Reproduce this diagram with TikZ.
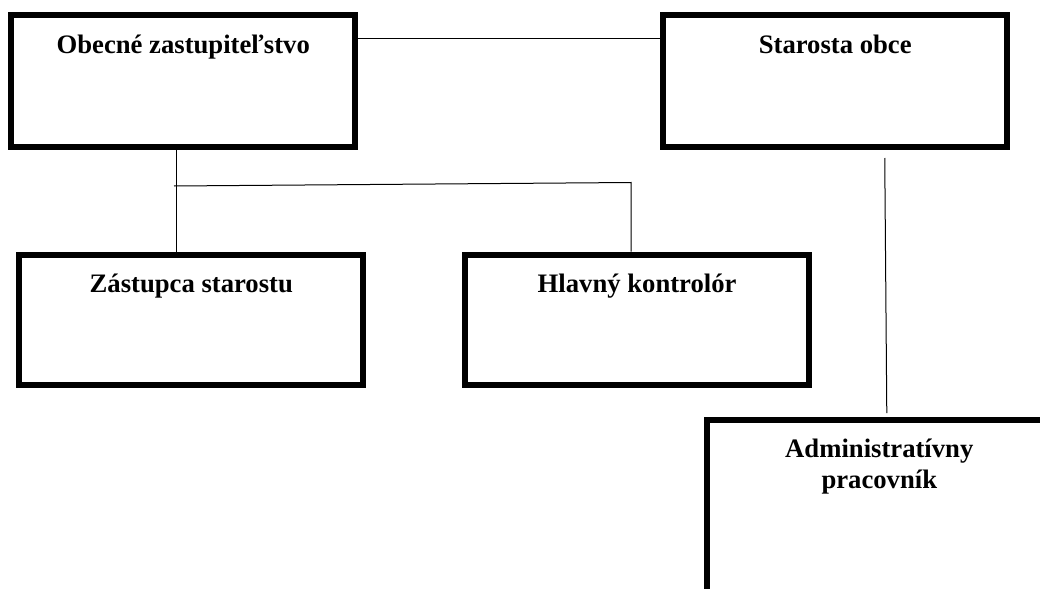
\documentclass[tikz,border=0pt]{standalone}
\usepackage{fontspec}
\setmainfont{Liberation Serif}
\usetikzlibrary{calc}
\tikzset{
  orgbox/.style={draw, line width=4.5pt, minimum width=258pt, inner sep=13.5pt,
    text height=15pt, text depth=57pt, align=center,
    font=\fontsize{20}{23}\selectfont\bfseries},
  link/.style={line width=0.75pt}
}
\begin{document}
\begin{tikzpicture}[x=0.75pt,y=-0.75pt]
  \useasboundingbox (0,0) rectangle (1040,589);
  \clip (0,0) rectangle (1040,589);
  \node[orgbox] (zast) at (183.25,81) {Obecné zastupiteľstvo};
  \node[orgbox] (star) at (835.25,81) {Starosta obce};
  \node[orgbox, text depth=56pt] (zastup) at (191.3,320) {Zástupca starostu};
  \node[orgbox, text depth=56pt] (kontr) at (637.1,320) {Hlavný kontrolór};
  \node[orgbox, text height=38pt, text depth=107.5pt] (admin) at (879.3,534.7) {Administratívny\\pracovník};
  \coordinate (jl) at (176,186);
  \coordinate (jr) at (631,182.5);
  \draw[link] ($(zast.north east)+(0,26.5)$) -- ($(star.north west)+(5,26.5)$);
  \draw[link] (zast.south -| jl) -- (zastup.north -| jl);
  \draw[link] ($(jl)+(-2,0)$) -- (jr) -- (kontr.north -| jr);
  \draw[link] ($(star.south)+(49.5,8)$) -- ($(admin.north)+(7.5,-3.5)$);
\end{tikzpicture}
\end{document}
